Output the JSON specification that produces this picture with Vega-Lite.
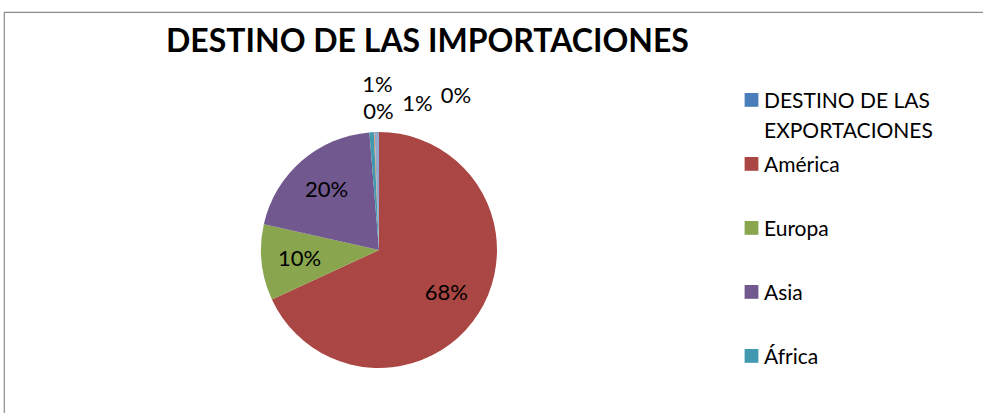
{
  "$schema": "https://vega.github.io/schema/vega-lite/v6.json",
  "width": 990,
  "height": 476,
  "autosize": "none",
  "padding": {"left": 4, "top": 12, "right": 0, "bottom": 0},
  "background": "white",
  "view": {"stroke": "#8c8c8c", "strokeWidth": 1.2},
  "config": {
    "view": {"stroke": "#8c8c8c", "strokeWidth": 1.2},
    "font": "Lato",
    "text": {"font": "Lato", "fontSize": 22, "color": "black"},
    "style": {"guide-label": {"lineHeight": 30}}
  },
  "title": {
    "text": "DESTINO DE LAS IMPORTACIONES",
    "anchor": "start",
    "frame": "group",
    "orient": "top",
    "offset": -72,
    "baseline": "alphabetic",
    "dx": 162,
    "fontSize": 32,
    "fontWeight": "bold",
    "font": "Lato",
    "color": "black"
  },
  "data": {
    "values": [
      {"region": "DESTINO DE LAS EXPORTACIONES", "valor": 0},
      {"region": "América", "valor": 0.681},
      {"region": "Europa", "valor": 0.104},
      {"region": "Asia", "valor": 0.202},
      {"region": "África", "valor": 0.006},
      {"region": "Oceanía", "valor": 0.001},
      {"region": "Otros", "valor": 0.006}
    ]
  },
  "transform": [{"window": [{"op": "row_number", "as": "orden"}]}],
  "encoding": {
    "theta": {"field": "valor", "type": "quantitative", "stack": true},
    "order": {"field": "orden", "type": "quantitative"},
    "color": {
      "field": "region",
      "type": "nominal",
      "scale": {
        "domain": ["DESTINO DE LAS EXPORTACIONES", "América", "Europa", "Asia", "África", "Oceanía", "Otros"],
        "range": ["#4A7EBB", "#AA4643", "#89A54E", "#71588F", "#4198AF", "#DB843D", "#93A9CF"]
      },
      "legend": {
        "orient": "none",
        "legendX": 737,
        "legendY": 85,
        "title": null,
        "values": ["DESTINO DE LAS EXPORTACIONES", "América", "Europa", "Asia", "África"],
        "symbolType": "M-1,-2.1H1V-0.1H-1Z",
        "symbolSize": 190,
        "symbolStrokeWidth": 0,
        "symbolOpacity": 1,
        "labelFont": "Lato",
        "labelFontSize": 21,
        "labelColor": "black",
        "labelBaseline": "alphabetic",
        "labelExpr": "datum.label == 'DESTINO DE LAS EXPORTACIONES' ? ['DESTINO DE LAS', 'EXPORTACIONES'] : datum.label",
        "labelLimit": 400,
        "labelOffset": 2,
        "gridAlign": "all",
        "rowPadding": 12,
        "padding": 0
      }
    }
  },
  "layer": [
    {"mark": {"type": "arc", "outerRadius": 118, "xOffset": -120}},
    {
      "transform": [{"filter": "datum.valor >= 0.05"}],
      "mark": {"type": "text", "radius": 80, "xOffset": -120},
      "encoding": {"text": {"field": "valor", "type": "quantitative", "format": ".0%"}, "color": {"value": "black"}}
    },
    {
      "transform": [{"filter": "datum.region == 'DESTINO DE LAS EXPORTACIONES'"}],
      "mark": {"type": "text", "radius": 135, "xOffset": -120, "dx": 77, "dy": -19},
      "encoding": {"text": {"field": "valor", "type": "quantitative", "format": ".0%"}, "color": {"value": "black"}}
    },
    {
      "transform": [{"filter": "datum.region == 'África'"}],
      "mark": {"type": "text", "radius": 135, "xOffset": -120, "dx": -4, "dy": -30},
      "encoding": {"text": {"field": "valor", "type": "quantitative", "format": ".0%"}, "color": {"value": "black"}}
    },
    {
      "transform": [{"filter": "datum.region == 'Oceanía'"}],
      "mark": {"type": "text", "radius": 135, "xOffset": -120, "dx": -1, "dy": -3},
      "encoding": {"text": {"field": "valor", "type": "quantitative", "format": ".0%"}, "color": {"value": "black"}}
    },
    {
      "transform": [{"filter": "datum.region == 'Otros'"}],
      "mark": {"type": "text", "radius": 135, "xOffset": -120, "dx": 36, "dy": -11.5},
      "encoding": {"text": {"field": "valor", "type": "quantitative", "format": ".0%"}, "color": {"value": "black"}}
    }
  ]
}
